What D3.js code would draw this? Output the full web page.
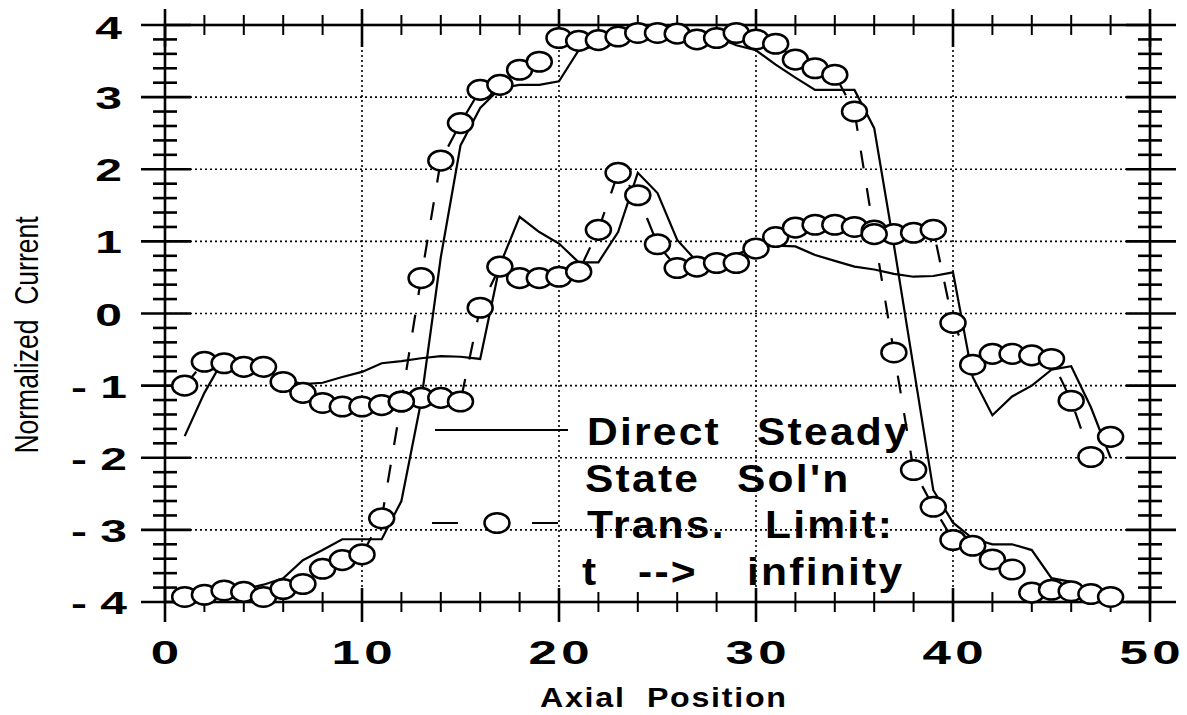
<!DOCTYPE html>
<html>
<head>
<meta charset="utf-8">
<script src="https://cdn.jsdelivr.net/npm/d3@7"></script>
<style>
  html, body { margin: 0; padding: 0; background: #fff; }
  svg { display: block; }
  text { font-family: "Liberation Sans", Arial, Helvetica, sans-serif; fill: #000; }
</style>
</head>
<body>
<svg id="chart" width="1187" height="715"></svg>
<script>
// Axial positions of the computed nodes
const axialPos = [1,2,3,4,5,6,7,8,9,10,11,12,13,14,15,16,17,18,19,20,21,22,23,24,
                  25,26,27,28,29,30,31,32,33,34,35,36,37,38,39,40,41,42,43,44,45,46,47,48];

// Direct steady-state solution (solid lines)
const steadyInner = [-1.70,-1.10,-0.62,-0.68,-0.78,-0.90,-0.98,-0.96,-0.88,-0.81,-0.69,-0.66,
                     -0.62,-0.59,-0.60,-0.63, 0.67, 1.34, 1.13, 0.97, 0.71, 0.71, 1.13, 1.95,
                      1.67, 1.02, 0.72, 0.75, 0.82, 0.92, 0.94, 0.93, 0.81, 0.73, 0.65, 0.61,
                      0.55, 0.51, 0.52, 0.57,-0.88,-1.41,-1.15,-1.00,-0.78,-0.73,-1.30,-2.00];
const steadyOuter = [-3.95,-3.92,-3.87,-3.82,-3.76,-3.67,-3.42,-3.28,-3.13,-3.13,-3.13,-2.60,
                     -1.22, 0.78, 2.33, 2.85, 3.12, 3.17, 3.17, 3.22, 3.65, 3.72, 3.80, 3.85,
                      3.87, 3.87, 3.85, 3.83, 3.72, 3.65, 3.45, 3.27, 3.10, 3.10, 3.10, 2.57,
                      0.95,-0.75,-2.45,-2.90,-3.12,-3.20,-3.20,-3.28,-3.67,-3.72,-3.85,-3.95];

// Transient solution in the limit t -> infinity (dashed lines with circles)
const transInner = [-1.00,-0.67,-0.69,-0.74,-0.74,-0.95,-1.10,-1.24,-1.29,-1.29,-1.27,-1.22,
                    -1.17,-1.17,-1.22, 0.08, 0.65, 0.49, 0.49, 0.51, 0.58, 1.16, 1.95, 1.64,
                     0.96, 0.63, 0.65, 0.70, 0.70, 0.90, 1.06, 1.19, 1.23, 1.23, 1.20, 1.15,
                     1.10, 1.12, 1.16,-0.13,-0.71,-0.56,-0.56,-0.58,-0.63,-1.21,-1.99,-1.71];
const transOuter = [-3.93,-3.90,-3.84,-3.86,-3.93,-3.82,-3.75,-3.54,-3.42,-3.34,-2.84,-1.22,
                     0.49, 2.12, 2.64, 3.10, 3.17, 3.38, 3.49, 3.82, 3.78, 3.79, 3.84, 3.89,
                     3.89, 3.88, 3.80, 3.82, 3.89, 3.80, 3.74, 3.52, 3.40, 3.31, 2.80, 1.10,
                    -0.54,-2.17,-2.68,-3.14,-3.22,-3.41,-3.55,-3.87,-3.83,-3.85,-3.89,-3.93];

// Axis ticks and labels
const xTickValues = [0, 10, 20, 30, 40, 50];
const xTickLabels = ["0", "10", "20", "30", "40", "50"];
const yTickValues = [-4, -3, -2, -1, 0, 1, 2, 3, 4];
const yTickLabels = ["- 4", "- 3", "- 2", "- 1", "0", "1", "2", "3", "4"];

const xTitle = "Axial\u00a0\u00a0Position";
const yTitle = "Normalized\u00a0\u00a0Current";

// Legend wording, one entry per word
const legendWords = [
  { text: "Direct",   x: 587, y: 445 },
  { text: "Steady",   x: 757, y: 445 },
  { text: "State",    x: 585, y: 492 },
  { text: "Sol'n",    x: 737, y: 492 },
  { text: "Trans.",   x: 587, y: 538 },
  { text: "Limit:",   x: 765, y: 538 },
  { text: "t",        x: 582, y: 585 },
  { text: "-->",      x: 638, y: 585 },
  { text: "infinity", x: 747, y: 585 }
];

const svg = d3.select("#chart");
const x = d3.scaleLinear().domain([0, 50]).range([165, 1150]);
const y = d3.scaleLinear().domain([-4, 4]).range([602, 25]);

// Dotted grid at the inner major ticks
const grid = svg.append("g")
  .attr("stroke", "#000").attr("stroke-width", 1.6).attr("stroke-dasharray", "2,3");
grid.selectAll("line.gh").data(yTickValues.filter(v => v > -4 && v < 4)).join("line")
  .attr("class", "gh")
  .attr("x1", x(0)).attr("x2", x(50))
  .attr("y1", d => y(d)).attr("y2", d => y(d));
grid.selectAll("line.gv").data(xTickValues.filter(v => v > 0 && v < 50)).join("line")
  .attr("class", "gv")
  .attr("x1", d => x(d)).attr("x2", d => x(d))
  .attr("y1", y(4)).attr("y2", y(-4));

// Frame and crossing tick marks
const frame = svg.append("g").attr("stroke", "#000").attr("fill", "none");
frame.append("rect")
  .attr("x", x(0)).attr("y", y(4))
  .attr("width", x(50) - x(0)).attr("height", y(-4) - y(4))
  .attr("stroke-width", 2.6);

const isMajorX = v => Math.abs(v % 10) < 1e-6;
const isMajorY = v => Math.abs(v - Math.round(v)) < 1e-6;
const xMinor = x.ticks(25).filter(v => !isMajorX(v));
const yMinor = y.ticks(40).filter(v => !isMajorY(v));

// x ticks, top and bottom edges
[[y(4), -1], [y(-4), 1]].forEach(([base, dir]) => {
  frame.append("g").selectAll("line").data(xMinor).join("line")
    .attr("x1", d => x(d)).attr("x2", d => x(d))
    .attr("y1", base - 10).attr("y2", base + 10)
    .attr("stroke-width", 2);
  frame.append("g").selectAll("line").data(xTickValues).join("line")
    .attr("x1", d => x(d)).attr("x2", d => x(d))
    .attr("y1", dir < 0 ? base - 16 : base - 14)
    .attr("y2", dir < 0 ? base + 22 : base + 20)
    .attr("stroke-width", 2.6);
});

// y ticks, left and right edges
[x(0), x(50)].forEach(base => {
  frame.append("g").selectAll("line").data(yMinor).join("line")
    .attr("x1", base - 12).attr("x2", base + 12)
    .attr("y1", d => y(d)).attr("y2", d => y(d))
    .attr("stroke-width", 2.6);
  frame.append("g").selectAll("line").data(yTickValues).join("line")
    .attr("x1", base - 24).attr("x2", base + 26)
    .attr("y1", d => y(d)).attr("y2", d => y(d))
    .attr("stroke-width", 2.6);
});

// Solution curves
const line = d3.line().x((d, i) => x(axialPos[i])).y(d => y(d));
const curves = svg.append("g").attr("fill", "none").attr("stroke", "#000");
[steadyInner, steadyOuter].forEach(s => {
  curves.append("path").attr("d", line(s)).attr("stroke-width", 2.2);
});
[transInner, transOuter].forEach(s => {
  curves.append("path").attr("d", line(s))
    .attr("stroke-width", 2.2).attr("stroke-dasharray", "18,20");
});

const markers = svg.append("g").attr("fill", "#fff").attr("stroke", "#000").attr("stroke-width", 2.5);
[transInner, transOuter].forEach(s => {
  markers.append("g").selectAll("ellipse").data(s).join("ellipse")
    .attr("cx", (d, i) => x(axialPos[i])).attr("cy", d => y(d))
    .attr("rx", 12.5).attr("ry", 9.8);
});

// Stretched text helper
function label(parent, str, px, py, o) {
  return parent.append("text")
    .attr("transform", `translate(${px},${py})${o.rot ? ` rotate(${o.rot})` : ""} scale(${o.sx || 1},1)`)
    .attr("text-anchor", o.anchor || "start")
    .attr("font-size", o.size)
    .attr("font-weight", o.weight || "bold")
    .style("letter-spacing", (o.ls || 0) + "px")
    .text(str);
}

const labels = svg.append("g");
yTickValues.forEach((v, i) => {
  const neg = v < 0;
  label(labels, yTickLabels[i], neg ? 127 : 122, y(v) + 12 + (v === 4 ? 2 : 0),
        { size: 32, sx: 1.5, anchor: "end" });
});
xTickValues.forEach((v, i) => {
  const ls = 3, sx = 1.5;
  label(labels, xTickLabels[i], x(v) + ls * sx / 2, 664, { size: 34, sx, ls, anchor: "middle" });
});

label(labels, xTitle, 663 + 1.5 * 1.12 / 2, 707, { size: 28, sx: 1.15, ls: 1.5, anchor: "middle" });
label(labels, yTitle, 38, 335, { size: 34, sx: 0.78, anchor: "middle", rot: -90, weight: "normal" });

// Legend
const legend = svg.append("g");
legend.append("line")
  .attr("x1", 435).attr("x2", 568).attr("y1", 430).attr("y2", 430)
  .attr("stroke", "#000").attr("stroke-width", 2.2);
legend.append("line")
  .attr("x1", 432).attr("x2", 560).attr("y1", 523).attr("y2", 523)
  .attr("stroke", "#000").attr("stroke-width", 2.2).attr("stroke-dasharray", "26,74");
legend.append("ellipse")
  .attr("cx", 497).attr("cy", 523).attr("rx", 12.5).attr("ry", 9.8)
  .attr("fill", "#fff").attr("stroke", "#000").attr("stroke-width", 2.5);
legendWords.forEach(w => label(legend, w.text, w.x, w.y, { size: 38, sx: 1.12, ls: 2 }));
</script>
</body>
</html>
